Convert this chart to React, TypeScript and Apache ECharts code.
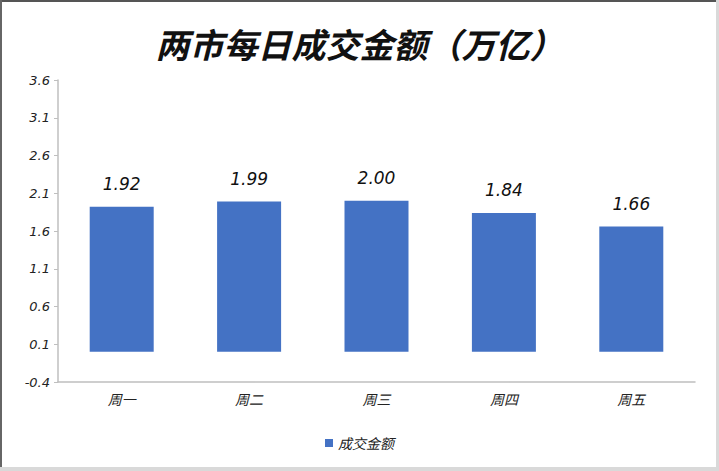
import React, { useEffect, useRef } from "react";
import * as echarts from "echarts";

const categories = ["周一", "周二", "周三", "周四", "周五"];
const values = [1.92, 1.99, 2.0, 1.84, 1.66];
const seriesName = "成交金额";
const titleText = "两市每日成交金额（万亿）";

export default function App() {
  const ref = useRef<HTMLDivElement>(null);
  useEffect(() => {
    if (!ref.current) return;
    const chart = echarts.init(ref.current, null, { renderer: "svg" });
    chart.setOption({
      animation: false,
      backgroundColor: "#ffffff",
      title: {
        text: titleText,
        left: "center",
        top: 21,
        textStyle: {
          fontFamily: "Noto Sans CJK SC",
          fontSize: 34,
          fontWeight: "bold",
          fontStyle: "italic",
          color: "#111111",
        },
      },
      legend: {
        bottom: 16,
        left: "center",
        itemWidth: 8,
        itemHeight: 8,
        icon: "rect",
        itemGap: 6,
        textStyle: {
          fontFamily: "Noto Sans CJK SC",
          fontSize: 14,
          fontStyle: "italic",
          color: "#222",
        },
        data: [seriesName],
      },
      grid: { left: 58, right: 24, top: 80, bottom: 89, containLabel: false },
      xAxis: {
        type: "category",
        data: categories,
        axisLine: { onZero: false, lineStyle: { color: "#bfbfbf", width: 1.5 } },
        axisTick: { alignWithLabel: true, length: 4, lineStyle: { color: "#bfbfbf" } },
        axisLabel: {
          margin: 10,
          fontFamily: "Noto Sans CJK SC",
          fontSize: 14,
          fontStyle: "italic",
          color: "#222",
        },
      },
      yAxis: {
        type: "value",
        min: -0.4,
        max: 3.6,
        interval: 0.5,
        splitLine: { show: false },
        axisLine: { show: true, lineStyle: { color: "#bfbfbf", width: 1.5 } },
        axisTick: { show: true, length: 4, lineStyle: { color: "#bfbfbf" } },
        axisLabel: {
          margin: 8,
          fontFamily: "DejaVu Sans",
          fontSize: 13,
          fontStyle: "italic",
          color: "#222",
          formatter: (v: number) => v.toFixed(1),
        },
      },
      series: [
        {
          name: seriesName,
          type: "bar",
          data: values,
          barWidth: 64,
          itemStyle: { color: "#4472C4" },
          label: {
            show: true,
            position: "top",
            distance: 14,
            fontFamily: "DejaVu Sans",
            fontSize: 17,
            fontStyle: "italic",
            color: "#111",
            formatter: (p: any) => Number(p.value).toFixed(2),
          },
        },
      ],
      graphic: [
        { type: "rect", shape: { x: 0, y: 0, width: 719, height: 2 }, style: { fill: "#555" } },
        { type: "rect", shape: { x: 0, y: 0, width: 2, height: 471 }, style: { fill: "#666" } },
        { type: "rect", shape: { x: 716, y: 0, width: 3, height: 471 }, style: { fill: "#d9d9d9" } },
        { type: "rect", shape: { x: 0, y: 467, width: 719, height: 4 }, style: { fill: "#d9d9d9" } },
      ],
    });
    return () => chart.dispose();
  }, []);
  return (
    <div
      ref={ref}
      style={{ position: "fixed", left: 0, top: 0, width: 719, height: 471 }}
    />
  );
}
